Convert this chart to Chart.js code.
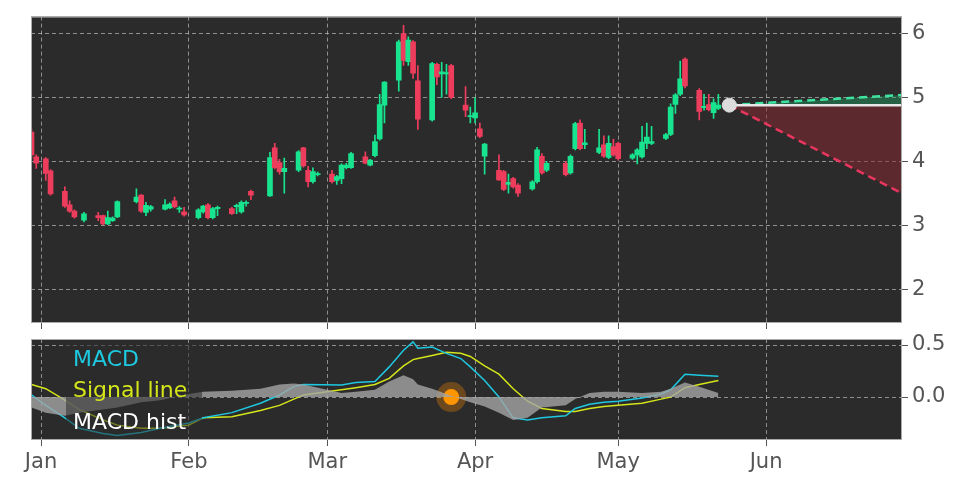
<!DOCTYPE html>
<html><head><meta charset="utf-8">
<script src="https://cdn.jsdelivr.net/npm/chart.js@4.4.1/dist/chart.umd.min.js"></script>
<style>body{margin:0;background:#fff;width:972px;height:486px;position:relative;overflow:hidden}
#c1{position:absolute;left:0;top:0}#c2{position:absolute;left:0;top:317px}</style></head>
<body><canvas id="c1" width="972" height="341"></canvas><canvas id="c2" width="972" height="169"></canvas>
<script>
const candleDays=[-2,-1,1,2,5,6,7,9,12,13,14,15,16,20,21,22,23,26,27,28,29,30,33,34,35,36,37,40,41,42,43,44,48,49,50,51,54,55,56,57,58,61,62,63,64,65,68,69,70,71,72,75,76,77,78,79,82,83,84,85,86,89,90,91,92,93,96,97,98,99,100,103,104,105,106,110,111,112,113,114,117,118,119,120,121,124,125,126,127,128,131,132,133,134,135,138,139,140,141,142];
const opens=[4.46,4.07,4.04,3.85,3.53,3.32,3.22,3.08,3.15,3.15,3.02,3.07,3.13,3.37,3.47,3.20,3.25,3.25,3.27,3.38,3.25,3.21,3.12,3.21,3.32,3.12,3.26,3.26,3.29,3.21,3.34,3.53,3.46,4.21,3.98,3.84,3.86,4.21,3.86,3.68,3.79,3.80,3.70,3.73,3.90,3.90,4.07,3.94,4.09,4.35,4.88,5.27,6.00,5.56,5.87,5.26,4.65,5.52,5.37,5.37,5.50,4.88,4.70,4.68,4.51,4.08,3.86,3.84,3.64,3.73,3.63,3.57,3.68,4.08,3.86,3.97,3.82,4.20,4.60,4.26,4.14,4.26,4.06,4.23,4.28,4.05,4.10,4.07,4.28,4.28,4.36,4.42,4.89,5.05,5.60,5.11,4.84,4.89,4.76,4.83];
const highs=[4.50,4.10,4.06,3.87,3.60,3.38,3.24,3.20,3.20,3.16,3.22,3.13,3.38,3.57,3.48,3.36,3.31,3.40,3.35,3.44,3.29,3.28,3.26,3.31,3.34,3.28,3.30,3.28,3.33,3.38,3.38,3.55,4.14,4.28,4.03,4.05,4.17,4.22,3.92,3.90,3.83,3.86,3.78,3.96,3.97,4.14,4.15,4.03,4.41,5.05,5.25,5.90,6.13,5.95,5.89,5.50,5.55,5.54,5.55,5.52,5.52,5.17,4.85,5.00,4.60,4.28,4.10,3.86,3.80,3.75,3.65,3.70,4.22,4.12,4.00,4.00,4.10,4.61,4.65,4.50,4.50,4.40,4.40,4.35,4.30,4.12,4.20,4.55,4.60,4.55,4.44,4.90,5.06,5.57,5.62,5.14,5.05,5.05,4.98,5.05];
const lows=[4.05,3.89,3.70,3.47,3.28,3.20,3.11,3.05,3.07,3.01,3.01,3.06,3.12,3.35,3.20,3.15,3.22,3.24,3.26,3.27,3.20,3.14,3.10,3.19,3.10,3.10,3.15,3.17,3.18,3.19,3.30,3.40,3.45,3.88,3.80,3.50,3.84,3.91,3.60,3.66,3.77,3.66,3.64,3.65,3.88,3.89,3.96,3.93,4.07,4.33,4.60,5.10,5.50,5.50,5.30,4.50,4.63,5.20,5.00,5.05,4.98,4.70,4.60,4.60,4.37,3.80,3.70,3.54,3.50,3.58,3.45,3.55,3.66,3.80,3.84,3.77,3.80,4.18,4.18,4.20,4.12,4.06,4.04,4.08,4.02,4.03,3.96,4.05,4.20,4.26,4.34,4.40,4.75,5.03,5.15,4.65,4.80,4.79,4.67,4.81];
const closes=[4.10,3.97,3.81,3.49,3.30,3.22,3.13,3.18,3.12,3.02,3.12,3.11,3.37,3.44,3.22,3.31,3.29,3.32,3.33,3.29,3.27,3.16,3.24,3.30,3.12,3.26,3.28,3.18,3.31,3.36,3.36,3.47,4.06,3.90,3.84,3.89,4.15,3.93,3.68,3.84,3.81,3.68,3.76,3.94,3.94,4.12,3.97,4.02,4.31,4.89,5.24,5.87,5.58,5.90,5.38,4.66,5.53,5.32,5.40,5.39,5.00,4.80,4.71,4.76,4.39,4.27,3.71,3.56,3.67,3.60,3.50,3.68,4.18,3.82,3.97,3.79,4.08,4.59,4.20,4.29,4.21,4.08,4.28,4.10,4.04,4.10,4.18,4.30,4.38,4.31,4.42,4.85,5.04,5.29,5.18,4.78,4.86,4.81,4.92,4.88];
const forecastDays=[144.3,180.5];
const forecastMid=[4.88,4.88];
const forecastHigh=[4.88,5.04];
const forecastLow=[4.88,3.5];
const macdDays=[-2,1,5,8,13,16,21,25,31,34,40,46,50,53,55,63,66,70,73,76,78,79,82,85,88,90,93,96,99,102,105,110,112,115,118,121,126,130,132,135,138,142];
const macdLine=[0.02,-0.08,-0.2,-0.3,-0.35,-0.37,-0.34,-0.3,-0.25,-0.2,-0.15,-0.06,0.02,0.1,0.12,0.115,0.14,0.15,0.29,0.45,0.53,0.47,0.48,0.42,0.37,0.29,0.16,0,-0.2,-0.22,-0.2,-0.18,-0.11,-0.07,-0.05,-0.04,-0.01,0.03,0.07,0.22,0.21,0.2];
const signalLine=[0.12,0.08,-0.03,-0.12,-0.22,-0.27,-0.30,-0.30,-0.27,-0.2,-0.19,-0.13,-0.08,-0.02,0.02,0.07,0.09,0.12,0.18,0.3,0.36,0.37,0.40,0.43,0.42,0.39,0.30,0.22,0.08,-0.04,-0.11,-0.14,-0.14,-0.11,-0.09,-0.08,-0.06,-0.02,0.0,0.09,0.12,0.16];
const macdHist=[-0.1,-0.15,-0.18,-0.15,-0.12,-0.1,-0.05,-0.03,0.03,0.05,0.06,0.08,0.12,0.13,0.12,0.04,0.05,0.07,0.15,0.21,0.17,0.12,0.08,0.03,-0.02,-0.05,-0.09,-0.15,-0.22,-0.2,-0.1,-0.08,-0.02,0.04,0.05,0.05,0.04,0.05,0.08,0.14,0.1,0.04];
const crossDay=[86], crossVal=[0];
const monthDays=[0,31,60,91,121,152];
const monthLabels=['Jan','Feb','Mar','Apr','May','Jun'];
const priceTicks=[2,3,4,5,6];
const macdTicks=[0,0.5];

const GREEN='#18e38f',RED='#ee3d5c',FONT='DejaVu Sans',TICKC='#555';
const grid={color:'rgba(210,210,210,0.6)',lineWidth:1,drawTicks:true,tickColor:'#555',tickLength:6,offset:false};
const border={display:false,dash:[4,3]};
const bgPlugin={id:'bg',beforeDraw(c){const a=c.chartArea,x=c.ctx;x.save();x.fillStyle='#2b2b2b';x.fillRect(a.left,a.top,a.width,a.height);x.restore();},
 afterDraw(c){const a=c.chartArea,x=c.ctx;x.save();x.strokeStyle='#aaa';x.lineWidth=1;x.strokeRect(a.left+0.5,a.top+0.5,a.width-1,a.height-1);x.restore();}};
const xScale=(show)=>({type:'linear',min:-2.1,max:180.5,offset:false,grid:{...grid},border:border,
 afterBuildTicks(s){s.ticks=monthDays.map(v=>({value:v}));},
 ticks:{display:show,color:TICKC,font:{family:FONT,size:21},padding:4,maxRotation:0,autoSkip:false,callback:(v)=>monthLabels[monthDays.indexOf(v)]},
 afterFit(s){s.height=show?46:18;}});
const col=opens.map((o,i)=>closes[i]>=o?GREEN:RED);
new Chart(document.getElementById('c1'),{type:'bar',
 data:{datasets:[
  {type:'line',data:forecastDays.map((d,i)=>({x:d,y:forecastMid[i]})),borderColor:'#e8e8e8',borderWidth:2.5,pointRadius:0,order:1},
  {type:'line',data:forecastDays.map((d,i)=>({x:d,y:forecastHigh[i]})),borderColor:'#3ee3a0',borderDash:[8,5],borderWidth:2.5,pointRadius:0,fill:{target:0,above:'rgba(30,160,100,0.45)',below:'rgba(30,160,100,0.45)'},order:2},
  {type:'line',data:forecastDays.map((d,i)=>({x:d,y:forecastLow[i]})),borderColor:'#e8365f',borderDash:[8,5],borderWidth:2.5,pointRadius:0,fill:{target:0,above:'rgba(140,40,50,0.5)',below:'rgba(140,40,50,0.5)'},order:3},
  {type:'scatter',data:[{x:forecastDays[0],y:forecastMid[0]}],pointRadius:7,backgroundColor:'#dcdcdc',borderColor:'#dcdcdc',order:0},
  {data:candleDays.map((d,i)=>({x:d,y:[lows[i],highs[i]]})),backgroundColor:col,barThickness:1,grouped:false,order:5},
  {data:candleDays.map((d,i)=>({x:d,y:[opens[i],closes[i]]})),backgroundColor:col,barThickness:5,grouped:false,order:4,minBarLength:1}
 ]},
 options:{animation:false,responsive:false,events:[],layout:{padding:{left:31,top:16,right:0,bottom:0}},
  plugins:{legend:{display:false},tooltip:{enabled:false}},
  scales:{x:xScale(false),
   y:{position:'right',min:1.469,max:6.266,grid:grid,border:border,
    afterBuildTicks(s){s.ticks=priceTicks.map(v=>({value:v}));},
    ticks:{color:TICKC,font:{family:FONT,size:21},padding:4},afterFit(s){s.width=70;}}}},
 plugins:[bgPlugin]});

const legendPlugin={id:'lg',afterDatasetsDraw(c){const x=c.ctx,t=c.chartArea.top;x.save();x.fillStyle='rgba(43,43,43,0.55)';x.fillRect(66,t+6,136,92);
 x.font='22px DejaVu Sans';x.textBaseline='middle';
 x.fillStyle='#1ec8e0';x.fillText('MACD',73,t+21);x.fillStyle='#d4e51a';x.fillText('Signal line',73,t+52);x.fillStyle='#ffffff';x.fillText('MACD hist',73,t+84);x.restore();}};
new Chart(document.getElementById('c2'),{type:'line',
 data:{datasets:[
  {data:macdDays.map((d,i)=>({x:d,y:macdHist[i]})),borderWidth:0,pointRadius:0,fill:'origin',backgroundColor:'rgba(165,165,165,0.8)',borderColor:'rgba(0,0,0,0)'},
  {data:macdDays.map((d,i)=>({x:d,y:macdLine[i]})),borderColor:'#1ec8e0',borderWidth:1.5,pointRadius:0},
  {data:macdDays.map((d,i)=>({x:d,y:signalLine[i]})),borderColor:'#d4e51a',borderWidth:1.5,pointRadius:0},
  {type:'scatter',data:crossDay.map((d,i)=>({x:d,y:crossVal[i]})),pointRadius:8,backgroundColor:'#ff9a00',borderColor:'rgba(255,140,0,0.3)',borderWidth:14}
 ]},
 options:{animation:false,responsive:false,events:[],layout:{padding:{left:31,top:9,right:0,bottom:0}},
  plugins:{legend:{display:false},tooltip:{enabled:false}},
  scales:{x:xScale(true),
   y:{position:'right',min:-0.413,max:0.558,grid:grid,border:border,
    afterBuildTicks(s){s.ticks=macdTicks.map(v=>({value:v}));},
    ticks:{color:TICKC,font:{family:FONT,size:21},padding:4,callback:v=>v.toFixed(1)},afterFit(s){s.width=70;}}}},
 plugins:[bgPlugin,legendPlugin]});
</script></body></html>
